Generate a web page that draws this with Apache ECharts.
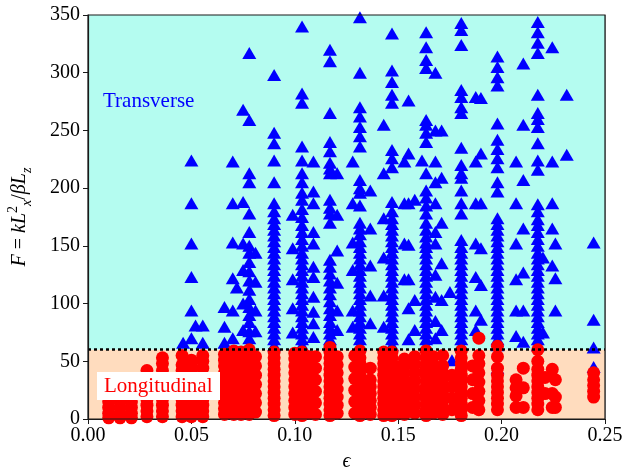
<!DOCTYPE html>
<html>
<head>
<meta charset="utf-8">
<script src="https://cdn.jsdelivr.net/npm/echarts@6/dist/echarts.min.js"></script>
<style>html,body{margin:0;padding:0;background:#fff;}#c{width:622px;height:468px;}</style>
</head>
<body>
<div id="c"></div>
<script>
// Transverse (blue triangles): x positions of columns and the F values in each
const transX = [0.046, 0.050, 0.052, 0.0555, 0.066, 0.070, 0.072, 0.075, 0.078, 0.081,
  0.090, 0.099, 0.1035, 0.109, 0.117, 0.1205, 0.128, 0.1315, 0.1365, 0.143,
  0.147, 0.153, 0.155, 0.158, 0.1615, 0.1635, 0.168, 0.171, 0.175, 0.176,
  0.1805, 0.1875, 0.190, 0.198, 0.207, 0.2105, 0.2175, 0.220, 0.2245, 0.226,
  0.2315, 0.2445];
const transY = [
  [66],
  [70, 94, 123, 152, 187, 224],
  [81],
  [66, 81],
  [66, 80, 97],
  [70, 94, 122, 153, 187, 223],
  [114],
  [77, 100, 129, 152, 188, 268],
  [64, 70, 76, 84, 90, 97, 104, 112, 120, 128, 136, 144, 150, 162, 178, 205, 213, 259, 317],
  [76, 94, 119, 144],
  [64, 69, 74, 79, 84, 89, 94, 99, 104, 109, 114, 119, 124, 129, 134, 139, 144, 149, 154, 159, 164, 169, 174, 180, 187, 205, 224, 239, 248, 298],
  [75, 96, 121, 148, 177],
  [64, 69, 74, 79, 84, 89, 94, 99, 104, 109, 114, 119, 124, 129, 134, 139, 144, 150, 156, 162, 168, 175, 182, 190, 196, 205, 213, 224, 236, 274, 282, 340],
  [71, 83, 93, 106, 123, 132, 152, 162, 187, 197, 223],
  [64, 69, 74, 79, 84, 90, 96, 102, 108, 114, 120, 126, 132, 138, 170, 178, 183, 190, 213, 217, 222, 232, 240, 265, 310, 320],
  [77, 94, 118, 146, 177, 213],
  [80, 94, 129, 153, 187, 223],
  [64, 69, 74, 79, 84, 89, 94, 99, 104, 109, 114, 119, 124, 129, 134, 139, 144, 149, 154, 160, 165, 170, 185, 196, 200, 207, 236, 245, 253, 262, 270, 300, 348],
  [83, 107, 133, 165, 198],
  [80, 107, 140, 174, 213, 255],
  [64, 69, 74, 79, 84, 89, 94, 99, 104, 109, 114, 119, 124, 129, 134, 139, 144, 149, 154, 159, 164, 169, 174, 180, 188, 218, 226, 233, 274, 281, 292, 302, 334],
  [121, 152, 187, 223],
  [69, 96, 121, 151, 187, 230, 276],
  [77, 103, 190],
  [224],
  [64, 69, 74, 79, 84, 89, 94, 99, 104, 109, 114, 119, 124, 129, 134, 139, 144, 149, 153, 158, 164, 170, 178, 185, 192, 198, 213, 240, 248, 255, 259, 304, 311, 322, 335],
  [70, 85, 106, 125, 152, 162, 187, 205, 223, 250, 300],
  [77, 103, 135, 170, 209, 250],
  [110],
  [51],
  [64, 69, 74, 79, 84, 89, 94, 99, 104, 109, 114, 119, 124, 129, 134, 139, 144, 149, 155, 178, 187, 198, 209, 213, 220, 235, 265, 270, 279, 285, 324, 337, 343],
  [77, 94, 123, 152, 187, 223, 279],
  [86, 116, 148, 187, 230, 278],
  [44, 64, 69, 74, 79, 84, 89, 94, 99, 104, 109, 114, 119, 124, 129, 134, 139, 144, 149, 154, 159, 164, 169, 174, 197, 205, 218, 226, 234, 242, 256, 289, 296, 305, 314],
  [72, 94, 121, 152, 187, 223],
  [67, 94, 127, 165, 207, 255, 308],
  [64, 69, 74, 79, 84, 89, 94, 99, 104, 109, 114, 119, 124, 129, 134, 139, 144, 150, 156, 162, 168, 173, 180, 186, 216, 224, 239, 253, 260, 265, 281, 317, 326, 335, 344],
  [75, 140],
  [133, 165, 187, 223, 322],
  [94, 122, 152],
  [229, 281],
  [45, 62, 86, 153]
];

// Longitudinal (red circles)
const longX = [0.010, 0.0155, 0.021, 0.0285, 0.036, 0.0455, 0.050, 0.0555, 0.066, 0.0705,
  0.074, 0.078, 0.081, 0.090, 0.100, 0.1035, 0.107, 0.110, 0.117, 0.1205,
  0.129, 0.1315, 0.1365, 0.143, 0.147, 0.150, 0.153, 0.158, 0.1635, 0.167,
  0.1715, 0.176, 0.1805, 0.186, 0.189, 0.198, 0.207, 0.2105, 0.2175, 0.221,
  0.2245, 0.226, 0.2445];
const longY = [
  [1, 5, 10, 15, 20, 25],
  [1, 5, 10, 15, 20, 25],
  [1, 5, 10, 15, 20, 25],
  [2, 7, 12, 17, 22, 27, 32, 37, 42],
  [2, 7, 12, 17, 22, 27, 32, 37, 42, 48, 53],
  [2, 7, 12, 17, 22, 27, 32, 37, 42, 47, 55],
  [2, 7, 12, 17, 22, 27, 32, 37, 42, 46, 51],
  [2, 7, 12, 17, 22, 27, 32, 37, 44, 50, 55],
  [4, 9, 14, 19, 24, 29, 34, 40, 46, 51, 56],
  [4, 9, 14, 19, 24, 29, 34, 39, 44, 49, 54, 59],
  [4, 10, 16, 22, 28, 34, 40, 46, 52, 58],
  [4, 9, 14, 19, 24, 29, 34, 39, 44, 49, 54, 60],
  [6, 14, 22, 30, 38, 46, 54],
  [3, 8, 13, 18, 23, 28, 33, 38, 43, 48, 53, 58],
  [4, 10, 16, 22, 28, 34, 40, 46, 52, 57],
  [3, 8, 13, 18, 23, 28, 33, 38, 43, 48, 53, 58],
  [5, 12, 19, 26, 33, 40, 47, 54],
  [4, 14, 24, 34, 44, 54],
  [3, 8, 13, 18, 23, 28, 33, 38, 43, 48, 53, 58, 62],
  [5, 12, 19, 26, 33, 40, 47, 54],
  [5, 15, 25, 35, 45, 55],
  [3, 8, 13, 18, 23, 28, 33, 38, 43, 48, 53, 59],
  [4, 10, 16, 22, 28, 34, 44],
  [3, 8, 13, 18, 23, 28, 33, 38, 43, 48, 53, 58],
  [3, 8, 13, 18, 23, 28, 33, 38, 43, 48, 53, 58],
  [5, 15, 25, 35, 45],
  [4, 10, 16, 22, 28, 34, 40, 46, 52],
  [5, 12, 19, 26, 33, 40, 47, 54],
  [3, 8, 13, 18, 23, 28, 33, 38, 43, 48, 53, 59],
  [5, 12, 19, 26, 33, 40, 47, 54],
  [4, 10, 16, 22, 28, 34, 40, 46, 55],
  [8, 18, 28, 38],
  [3, 8, 13, 18, 23, 28, 33, 38, 43, 48, 53, 59],
  [10, 22, 34, 46],
  [8, 16, 24, 32, 40, 48, 55, 70],
  [8, 13, 18, 23, 28, 33, 38, 44, 54, 63],
  [10, 20, 27, 34],
  [10, 27, 44],
  [8, 13, 18, 23, 28, 33, 38, 43, 50, 60],
  [22, 36],
  [10, 22, 43],
  [10, 19, 34],
  [19, 24, 29, 34, 40]
];

const xTickLabels = ['0.00', '0.05', '0.10', '0.15', '0.20', '0.25'];
const yTickLabels = ['0', '50', '100', '150', '200', '250', '300', '350'];
const threshold = 60;

const transData = transX.flatMap((x, i) => transY[i].map(y => [x, y]));
const longData = longX.flatMap((x, i) => longY[i].map(y => [x, y]));

const FONT = '"Liberation Serif", "DejaVu Serif", serif';
const chart = echarts.init(document.getElementById('c'), null, {renderer: 'canvas'});
chart.setOption({
  animation: false,
  backgroundColor: '#ffffff',
  grid: {left: 88, right: 17, top: 15, bottom: 49, containLabel: false, outerBoundsMode: 'none',
    show: true, borderColor: '#1a1a1a', borderWidth: 1.2, backgroundColor: 'transparent', z: 10},
  xAxis: {
    type: 'value', min: 0, max: 0.25, interval: 0.05, z: 1,
    axisLine: {show: true, onZero: false, lineStyle: {color: '#1a1a1a', width: 1.2}},
    axisTick: {show: true, inside: false, length: 5, lineStyle: {color: '#1a1a1a', width: 1}},
    axisLabel: {color: '#000', fontFamily: FONT, fontSize: 20, margin: 7,
      formatter: (v) => xTickLabels[Math.round(v / 0.05)]},
    splitLine: {show: true, lineStyle: {color: '#b0b0b0', width: 1}},
    name: 'ϵ', nameLocation: 'middle', nameGap: 33,
    nameTextStyle: {fontFamily: FONT, fontSize: 20, fontStyle: 'italic', color: '#000'}
  },
  yAxis: {
    type: 'value', min: 0, max: 350, interval: 50, z: 1,
    axisLine: {show: true, onZero: false, lineStyle: {color: '#1a1a1a', width: 1.2}},
    axisTick: {show: true, inside: false, length: 5, lineStyle: {color: '#1a1a1a', width: 1}},
    axisLabel: {color: '#000', fontFamily: FONT, fontSize: 20, margin: 8,
      formatter: (v) => yTickLabels[Math.round(v / 50)]},
    splitLine: {show: true, lineStyle: {color: '#b0b0b0', width: 1}},
    name: '{i|F} {n|=} {i|kL}{sup|2}{sub|x}{n|/}{i|βL}{sub|z}',
    nameLocation: 'middle', nameRotate: 90, nameGap: 54,
    nameTextStyle: {
      color: '#000', fontFamily: FONT, fontSize: 20,
      rich: {
        i: {fontFamily: FONT, fontSize: 20, fontStyle: 'italic', color: '#000', lineHeight: 28},
        n: {fontFamily: FONT, fontSize: 20, color: '#000', lineHeight: 28},
        sup: {fontFamily: FONT, fontSize: 14, color: '#000', verticalAlign: 'top', lineHeight: 28},
        sub: {fontFamily: FONT, fontSize: 14, fontStyle: 'italic', color: '#000', verticalAlign: 'bottom', lineHeight: 28}
      }
    }
  },
  series: [
    {
      name: 'bg', type: 'line', data: [], z: 0, silent: true,
      markArea: {
        silent: true,
        data: [
          [{yAxis: threshold, itemStyle: {color: '#b4fcf0', opacity: 1}}, {yAxis: 350}],
          [{yAxis: 0, itemStyle: {color: '#ffdcbe', opacity: 1}}, {yAxis: threshold}]
        ]
      }
    },
    {
      name: 'thr', type: 'line', data: [], z: 1.5, silent: true,
      markLine: {
        silent: true, symbol: 'none', label: {show: false},
        lineStyle: {color: '#000', type: [3, 3], width: 2.5, opacity: 1},
        data: [{yAxis: threshold}]
      }
    },
    {
      name: 'Transverse', type: 'scatter', data: transData, z: 3,
      symbol: 'triangle', symbolSize: [14, 12],
      itemStyle: {color: '#0000ff', opacity: 1}
    },
    {
      name: 'Longitudinal', type: 'scatter', data: longData, z: 4,
      symbol: 'circle', symbolSize: 13,
      itemStyle: {color: '#ff0000', opacity: 1}
    }
  ],
  graphic: [
    {type: 'text', x: 103, y: 101, z: 100,
      style: {text: 'Transverse', fill: '#0000ff', font: '21px "Liberation Serif"', verticalAlign: 'middle'}},
    {type: 'rect', z: 100, shape: {x: 97, y: 372, width: 123, height: 28}, style: {fill: '#ffffff'}},
    {type: 'text', x: 104, y: 386, z: 101,
      style: {text: 'Longitudinal', fill: '#ff0000', font: '21px "Liberation Serif"', verticalAlign: 'middle'}}
  ]
});
</script>
</body>
</html>
